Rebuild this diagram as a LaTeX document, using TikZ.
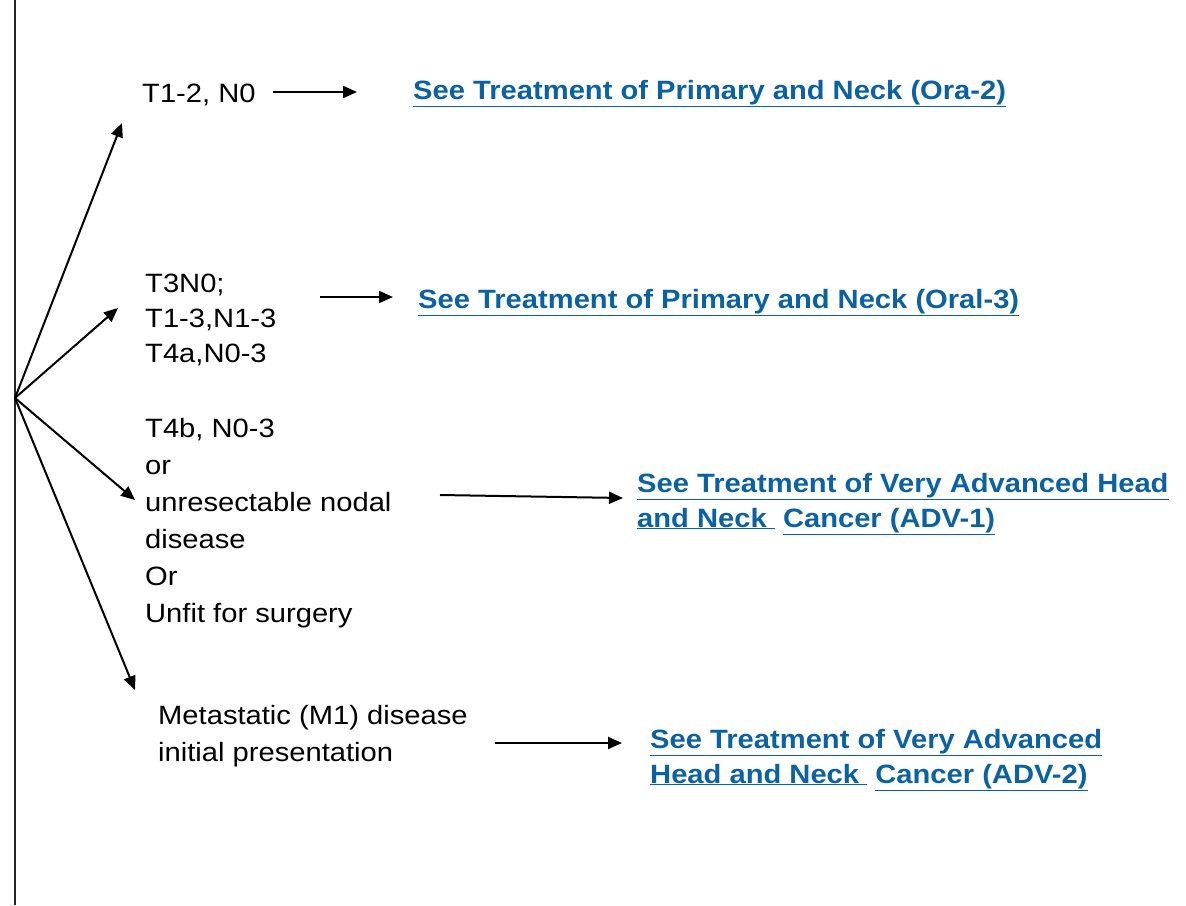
\documentclass[tikz,border=0pt]{standalone}
\usepackage{fontspec}
\setmainfont{Liberation Sans}[FakeStretch=1.1]
\usetikzlibrary{arrows.meta,positioning}
\definecolor{linkblue}{RGB}{10,98,164}

\begin{document}
\begin{tikzpicture}[x=1pt, y=-1pt,
    stage/.style={anchor=base west, inner sep=0pt, align=left, font=\fontsize{26.5}{37}\selectfont},
    link/.style={anchor=base west, inner sep=0pt, align=left, text=linkblue, font=\fontsize{26.5}{35}\selectfont\bfseries},
    flow/.style={-{Triangle[length=14pt,width=12pt]}, line width=2pt}
]
\useasboundingbox (0,0) rectangle (1186,905);

% left bar and the fan root
\draw[line width=1.5pt, black!85] (15,0) -- (15,905);
\coordinate (root) at (15,398);

% stages (placed at the baseline of their last line)
\node[stage] (T12) at (142,102) {T1-2, N0};
\node[stage, font=\fontsize{26.5}{35}\selectfont] (T3) at (145,362) {T3N0;\\T1-3,N1-3\\T4a,N0-3};
\node[stage] (T4b) at (145,622) {T4b, N0-3\\or\\unresectable nodal\\disease\\Or\\Unfit for surgery};
\node[stage] (M1) at (158,761) {Metastatic (M1) disease\\initial presentation};

% treatment links
\node[link] (Ora2) at (413,99) {\underline{See Treatment of Primary and Neck (Ora-2)}};
\node[link] (Oral3) at (418,308) {\underline{See Treatment of Primary and Neck (Oral-3)}};
\node[link] (ADV1) at (637,527) {\underline{See Treatment of Very Advanced Head}\\\underline{and Neck\ }\ \underline{Cancer (ADV-1)}};
\node[link] (ADV2) at (650,783) {\underline{See Treatment of Very Advanced}\\\underline{Head and Neck\ }\ \underline{Cancer (ADV-2)}};

% fan
\draw[flow] (root) -- ([shift={(-20pt,-21pt)}]T12.base west);
\draw[flow] (root) -- ([shift={(-27pt,54pt)}]T3.base west);
\draw[flow] (root) -- ([shift={(-10pt,122pt)}]T4b.base west);
\draw[flow] (root) -- ([shift={(-23pt,71pt)}]M1.base west);

% connections
\draw[flow] ([xshift=131pt,yshift=10pt]T12.base west) -- ([xshift=-56pt,yshift=7pt]Ora2.base west);
\draw[flow] ([xshift=175pt,yshift=65pt]T3.base west) -- ([xshift=-25pt,yshift=11pt]Oral3.base west);
\draw[flow] ([xshift=295pt,yshift=127pt]T4b.base west) -- ([xshift=-14pt,yshift=29pt]ADV1.base west);
\draw[flow] ([xshift=337pt,yshift=18pt]M1.base west) -- ([xshift=-28pt,yshift=40pt]ADV2.base west);

\end{tikzpicture}
\end{document}
